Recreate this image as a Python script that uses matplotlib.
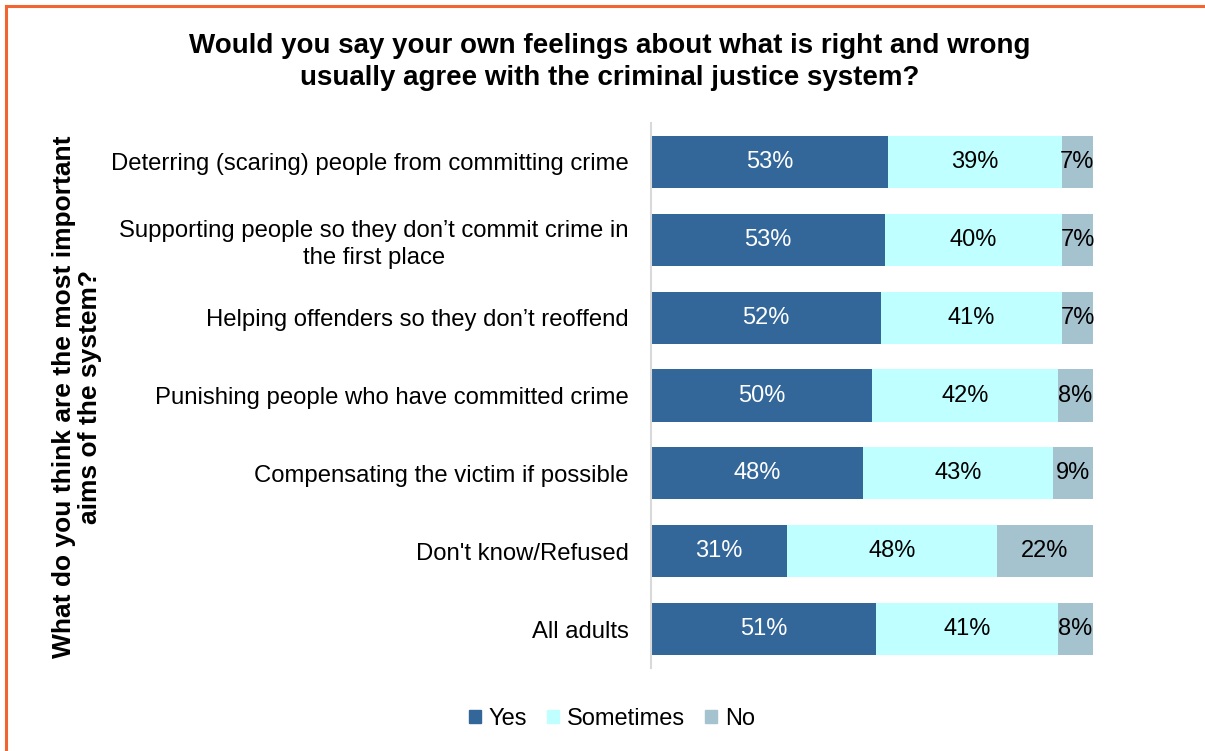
import matplotlib
matplotlib.use("Agg")
import matplotlib.pyplot as plt
from matplotlib.lines import Line2D
import numpy as np

plt.rcParams['font.family'] = ['Liberation Sans', 'DejaVu Sans']

categories = [
    "Deterring (scaring) people from committing crime",
    "Supporting people so they don\u2019t commit crime in\nthe first place",
    "Helping offenders so they don\u2019t reoffend",
    "Punishing people who have committed crime",
    "Compensating the victim if possible",
    "Don't know/Refused",
    "All adults",
]
yes = [53, 53, 52, 50, 48, 31, 51]
sometimes = [39, 40, 41, 42, 43, 48, 41]
no = [7, 7, 7, 8, 9, 22, 8]

series_names = ["Yes", "Sometimes", "No"]
colors = ["#336699", "#C0FFFF", "#A5C3CF"]
text_colors = ["white", "black", "black"]

fig = plt.figure(figsize=(12.05, 7.51), dpi=100)
W, H = 1205, 751
ax = fig.add_axes([651 / W, 1 - 668 / H, (1093 - 651) / W, (668 - 123) / H])

data = np.array([yes, sometimes, no], dtype=float)
totals = data.sum(axis=0)
shares = data / totals
ypos = np.arange(len(categories))
left = np.zeros(len(categories))
for i, name in enumerate(series_names):
    ax.barh(ypos, shares[i], left=left, height=0.67, color=colors[i],
            label=name, edgecolor='none')
    for j in range(len(categories)):
        ax.text(left[j] + shares[i][j] / 2, ypos[j], f"{int(data[i][j])}%",
                ha='center', va='center', fontsize=17, color=text_colors[i])
    left += shares[i]

ax.set_xlim(0, 1)
ax.set_ylim(len(categories) - 0.5, -0.5)
ax.set_xticks([])
ax.set_yticks(ypos)
ax.set_yticklabels(categories, fontsize=17.2, multialignment='center', linespacing=1.3)
ax.tick_params(axis='y', length=0, pad=16)
for s in ['top', 'right', 'bottom']:
    ax.spines[s].set_visible(False)
ax.spines['left'].set_color('#D9D9D9')
ax.spines['left'].set_linewidth(1.5)

fig.text(610 / W, 1 - 62 / H,
         "Would you say your own feelings about what is right and wrong\nusually agree with the criminal justice system?",
         ha='center', va='center', fontsize=20, fontweight='bold',
         linespacing=1.3)

fig.text(77 / W, 1 - 397 / H,
         "What do you think are the most important\naims of the system?",
         ha='center', va='center', rotation=90, fontsize=19,
         fontweight='bold', linespacing=1.12)

handles = [plt.Rectangle((0, 0), 1, 1, color=c) for c in colors]
fig.legend(handles, series_names, loc='center', bbox_to_anchor=(612 / W, 1 - 719 / H),
           ncol=3, frameon=False, fontsize=17, handlelength=0.5, handleheight=0.5,
           handletextpad=0.34, columnspacing=0.85)

orange = "#F26430"
fig.add_artist(Line2D([6 / W, 1], [1 - 6 / H, 1 - 6 / H], color=orange, lw=2.2,
                      transform=fig.transFigure))
fig.add_artist(Line2D([6 / W, 6 / W], [0, 1 - 6 / H], color=orange, lw=2.2,
                      transform=fig.transFigure))

fig.savefig("out.png", dpi=100)
